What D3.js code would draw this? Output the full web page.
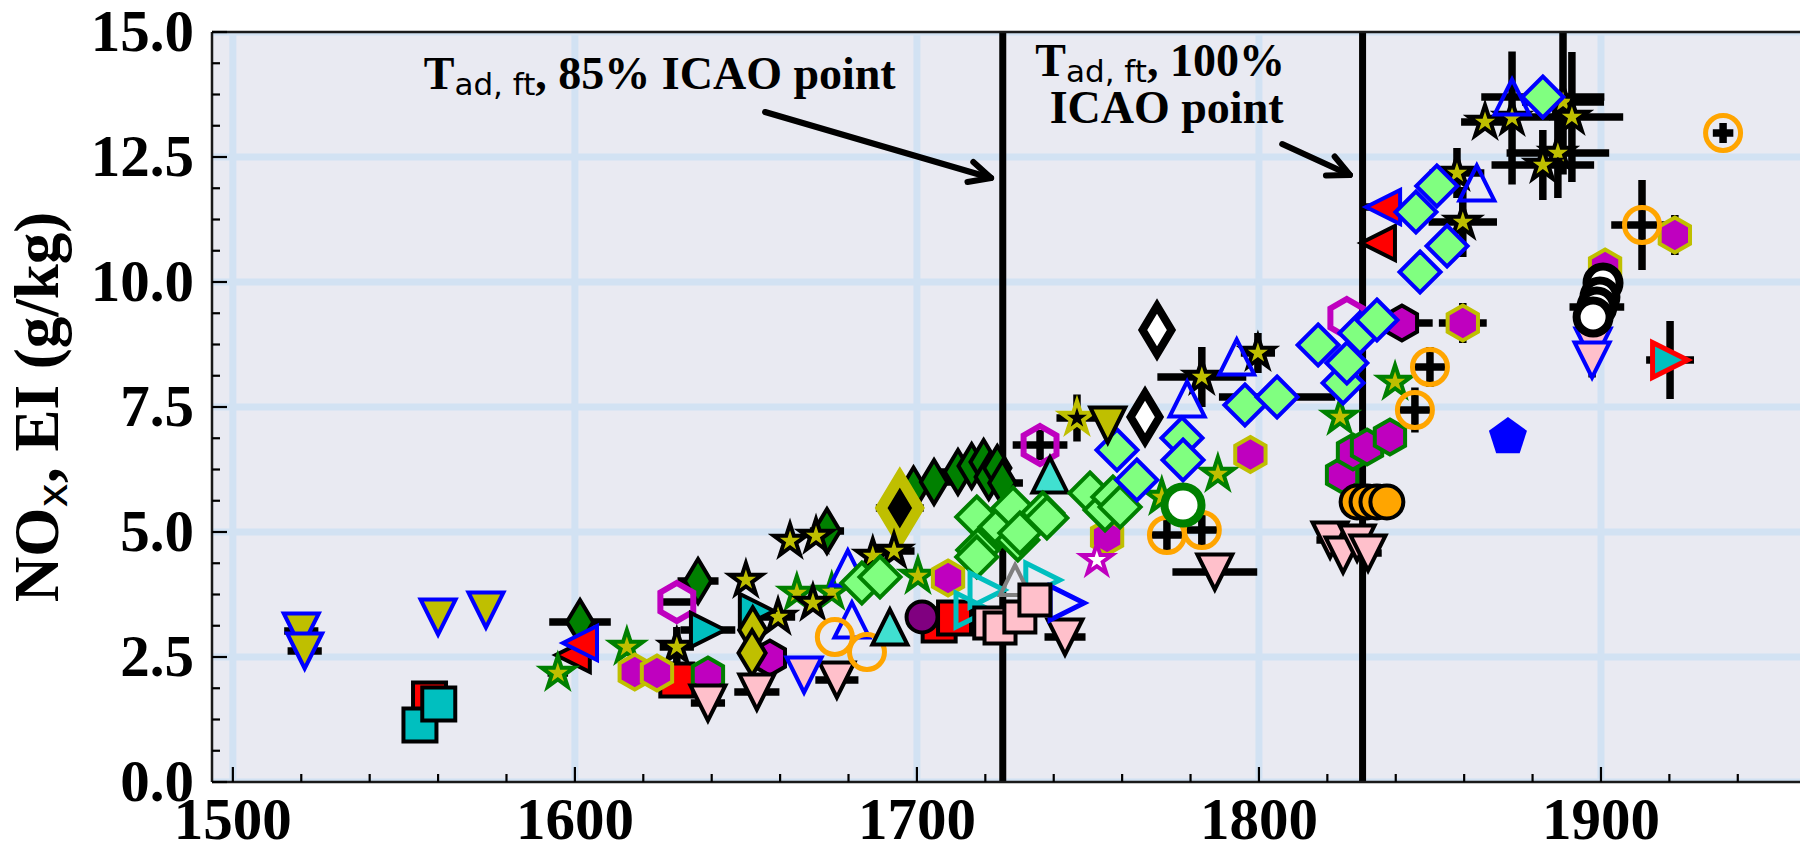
<!DOCTYPE html>
<html>
<head>
<meta charset="utf-8">
<script src="https://cdn.jsdelivr.net/npm/d3@7"></script>
<style>
  html, body { margin: 0; padding: 0; background: #ffffff; overflow: hidden; }
  svg { display: block; }
</style>
</head>
<body>
<svg id="chart" width="1800" height="843"></svg>
<script>
// ---- data: each point is [T (K), EI NOx (g/kg), xerr, yerr] ----
const triDownOliveBlue   = [[1520, 3.02, 5, 0], [1521, 2.62, 5, 0], [1560, 3.30, 0, 0], [1574, 3.44, 0, 0]];
const squareRed          = [[1557.5, 1.66, 0, 0], [1629.8, 2.04, 4, 0], [1706.5, 3.14, 0, 0], [1711, 3.28, 0, 0]];
const squareCyan         = [[1554.7, 1.14, 0, 0], [1560.2, 1.56, 0, 0]];
const thinDiamondGreen   = [[1601.5, 3.20, 9, 0], [1636, 4.02, 6, 0], [1673.7, 5.02, 5, 0], [1699, 5.85, 6, 0],
                            [1705, 6.00, 7, 0], [1712, 6.20, 6, 0], [1716, 6.32, 5, 0], [1719.5, 6.40, 5, 0],
                            [1721, 6.10, 6, 0], [1723.5, 6.28, 0, 0], [1725, 5.98, 6, 0]];
const thinDiamondDark    = [[1695, 5.48, 7, 0]];
const triLeftRedBlue     = [[1601.5, 2.78, 0, 0], [1836.3, 11.50, 5, 0]];
const triLeftRedBlack    = [[1599.4, 2.54, 0, 0], [1834.8, 10.78, 5, 0]];
const starGreenEdge      = [[1595, 2.18, 3, 0], [1615.2, 2.70, 0, 0], [1664.9, 3.78, 0, 0], [1675.1, 3.80, 0, 0],
                            [1700.3, 4.12, 0, 0], [1771.6, 5.70, 0, 0], [1788, 6.16, 0, 0], [1823.7, 7.30, 0, 0],
                            [1839.8, 8.00, 0, 0]];
const starBlackEdge      = [[1629.8, 2.70, 5, 0.4], [1650, 4.04, 0, 0], [1659.4, 3.30, 5, 0], [1662.9, 4.82, 0, 0],
                            [1670.5, 4.92, 0, 0], [1669.6, 3.58, 0, 0], [1687.1, 4.52, 0, 0], [1693.3, 4.62, 6, 0],
                            [1783.3, 8.10, 13, 0.6], [1799.7, 8.58, 5, 0.4], [1857.9, 12.18, 8, 0.5],
                            [1859.6, 11.20, 10, 0.7], [1866.1, 13.20, 7, 0], [1874, 13.28, 0, 1.33],
                            [1888.9, 13.60, 12, 1.45], [1891.5, 13.30, 15, 1.3], [1887.4, 12.58, 15, 0.9],
                            [1883, 12.34, 15, 0.7]];
const hexOliveEdge       = [[1617.5, 2.20, 0, 0], [1624, 2.18, 0, 0], [1709.1, 4.08, 0, 0], [1755.6, 4.90, 0, 0],
                            [1797.5, 6.55, 0, 0], [1859.6, 9.18, 7, 0.4], [1901.2, 10.30, 0, 0.3], [1921.6, 10.94, 4, 0.4]];
const hexGreenEdge       = [[1638.9, 2.14, 0, 0], [1824.3, 6.14, 0, 0], [1827.5, 6.60, 0, 0], [1831.6, 6.70, 0, 0],
                            [1838.3, 6.90, 0, 0]];
const hexBlackEdge       = [[1657, 2.48, 0, 0], [1841.8, 9.18, 9, 0]];
const hexOpen            = [[1629.8, 3.60, 5, 0], [1736, 6.74, 8, 0.3], [1825.7, 9.28, 0, 0]];
const triRightCyan       = [[1638.9, 3.04, 8, 0], [1653.2, 3.42, 0, 0]];
const thinDiamondOlive   = [[1652, 3.04, 0, 0], [1651.8, 2.58, 0, 0]];
const triDownPinkBlack   = [[1638.9, 1.58, 5, 0], [1653.2, 1.80, 6.6, 0], [1676.6, 2.04, 6.3, 0], [1743.3, 2.90, 6, 0],
                            [1787.1, 4.20, 12.4, 0], [1820.8, 4.84, 4, 0], [1824.6, 4.54, 0, 0], [1828.7, 4.78, 0, 0],
                            [1831.9, 4.58, 4, 0]];
const triDownPinkBlue    = [[1667, 2.14, 0, 0], [1897.7, 8.72, 0, 0], [1897.4, 8.44, 0, 0.35]];
const triUpOpenBlue      = [[1679.8, 4.28, 0, 0], [1681, 3.24, 0, 0], [1779, 7.66, 0, 0], [1793.5, 8.50, 0, 0],
                            [1863.7, 11.98, 0, 0], [1874, 13.70, 0, 0]];
const circleOpenOrange   = [[1676, 2.90, 0, 0], [1685.4, 2.60, 0, 0], [1773.1, 4.94, 5, 0.3], [1783.3, 5.04, 5, 0.3],
                            [1845.6, 7.44, 5, 0.45], [1850, 8.30, 5, 0.4], [1912, 11.14, 9, 0.9], [1935.7, 12.98, 3, 0.2]];
const triUpTurquoise     = [[1692.1, 3.10, 0, 0], [1738.9, 6.14, 0, 0]];
const circlePurple       = [[1701.5, 3.30, 0, 0]];
const diamondGreenEdge   = [[1683.9, 3.98, 0, 0], [1689.2, 4.10, 0, 0], [1717.5, 5.30, 0, 0], [1717.8, 4.64, 0, 0],
                            [1717.5, 4.50, 0, 0], [1724.3, 5.10, 0, 0], [1728.1, 5.48, 0, 0], [1729.5, 4.84, 0, 0],
                            [1730.1, 4.98, 0, 0], [1736.8, 5.38, 0, 0], [1738, 5.28, 0, 0], [1750.6, 5.78, 0, 0],
                            [1755, 5.44, 0, 0], [1757.3, 5.70, 0, 0], [1759.4, 5.50, 0, 0]];
const diamondBlueEdge    = [[1758.5, 6.64, 0, 0], [1764.3, 6.04, 0, 0], [1777.5, 6.88, 0, 0], [1777.8, 6.44, 0, 0],
                            [1795.9, 7.54, 0, 0], [1805.3, 7.70, 17, 0], [1817.3, 8.74, 0, 0], [1824.6, 7.98, 0, 0],
                            [1825.7, 8.38, 0, 0], [1829.5, 8.98, 0, 0], [1834.5, 9.24, 0, 0], [1845.9, 11.40, 0, 0],
                            [1852, 11.92, 0, 0], [1847.1, 10.20, 0, 0], [1855, 10.72, 0, 0], [1883, 13.70, 18, 0]];
const triRightOpenCyan   = [[1716.4, 3.44, 0, 0], [1720.5, 3.84, 0, 0], [1736.8, 4.04, 0, 0]];
const triRightOpenBlue   = [[1743.9, 3.58, 0, 0]];
const triUpOpenGray      = [[1728.7, 4.04, 0, 0]];
const squarePink         = [[1721.3, 3.18, 0, 0], [1724.3, 3.08, 0, 0], [1730.1, 3.30, 0, 0], [1734.5, 3.64, 0, 0]];
const pentagonBlue       = [[1872.8, 6.90, 0, 0]];
const circleWhite        = [[1900.6, 9.98, 0, 0], [1899.7, 9.70, 0, 0], [1898.8, 9.50, 8, 0], [1897.7, 9.30, 0, 0]];
const circleWhiteGreen   = [[1777.8, 5.54, 0, 0]];
const circleOrange       = [[1828.7, 5.60, 0, 0], [1831.6, 5.60, 0, 0], [1834.5, 5.60, 0, 0], [1837.4, 5.60, 0, 0]];
const thinDiamondWhite   = [[1770.2, 9.04, 0, 0], [1766.7, 7.30, 0, 0]];
const starWhite          = [[1752.6, 4.44, 0, 0]];
const starDark           = [[1746.8, 7.28, 6, 0.47]];
const triDownOliveBlack  = [[1755.8, 7.14, 0, 0]];
const triRightCyanRed    = [[1920.2, 8.44, 7, 0.78]];

// reference temperatures (vertical lines)
const refLines = [1725.1, 1830.3];

// axis ticks
const xMajor = [1500, 1600, 1700, 1800, 1900];
const yMajor = [0, 2.5, 5, 7.5, 10, 12.5, 15];
const yTickLabels = ["0.0", "2.5", "5.0", "7.5", "10.0", "12.5", "15.0"];

// ---- series styling ----
const C = {
  olive: "#bfbf00", cyan: "#00bfbf", mag: "#bf00bf", green: "#008000", red: "#ff0000",
  blue: "#0000ff", pink: "#ffc0cb", lgreen: "#80ff80", turq: "#40e0d0", purple: "#800080",
  orange: "#ffa500", gray: "#808080", black: "#000000", white: "#ffffff"
};
const series = [
  { data: triDownOliveBlue,  sym: "v", ms: 35, fill: C.olive,  stroke: C.blue,   sw: 4 },
  { data: squareRed,         sym: "s", ms: 33, fill: C.red,    stroke: C.black,  sw: 4 },
  { data: squareCyan,        sym: "s", ms: 33, fill: C.cyan,   stroke: C.black,  sw: 4 },
  { data: thinDiamondGreen,  sym: "d", ms: 31, fill: C.green,  stroke: C.black,  sw: 4 },
  { data: thinDiamondDark,   sym: "d", ms: 44, fill: C.black,  stroke: C.olive,  sw: 11 },
  { data: triLeftRedBlack,   sym: "<", ms: 34, fill: C.red,    stroke: C.black,  sw: 4 },
  { data: triLeftRedBlue,    sym: "<", ms: 34, fill: C.red,    stroke: C.blue,   sw: 4 },
  { data: starGreenEdge,     sym: "*", ms: 34, fill: C.olive,  stroke: C.green,  sw: 4 },
  { data: starBlackEdge,     sym: "*", ms: 34, fill: C.olive,  stroke: C.black,  sw: 4 },
  { data: hexOliveEdge,      sym: "h", ms: 35, fill: C.mag,    stroke: C.olive,  sw: 4 },
  { data: hexGreenEdge,      sym: "h", ms: 35, fill: C.mag,    stroke: C.green,  sw: 4 },
  { data: hexBlackEdge,      sym: "h", ms: 35, fill: C.mag,    stroke: C.black,  sw: 4 },
  { data: hexOpen,           sym: "h", ms: 38, fill: "none",   stroke: C.mag,    sw: 6 },
  { data: triRightCyan,      sym: ">", ms: 34, fill: C.cyan,   stroke: C.black,  sw: 4 },
  { data: thinDiamondOlive,  sym: "d", ms: 32, fill: C.olive,  stroke: C.black,  sw: 4 },
  { data: triDownPinkBlack,  sym: "v", ms: 35, fill: C.pink,   stroke: C.black,  sw: 4 },
  { data: triDownPinkBlue,   sym: "v", ms: 35, fill: C.pink,   stroke: C.blue,   sw: 4 },
  { data: triUpOpenBlue,     sym: "^", ms: 35, fill: "none",   stroke: C.blue,   sw: 4 },
  { data: circleOpenOrange,  sym: "o", ms: 35, fill: "none",   stroke: C.orange, sw: 5 },
  { data: triUpTurquoise,    sym: "^", ms: 35, fill: C.turq,   stroke: C.black,  sw: 4 },
  { data: circlePurple,      sym: "o", ms: 31, fill: C.purple, stroke: C.black,  sw: 4 },
  { data: diamondGreenEdge,  sym: "D", ms: 29, fill: C.lgreen, stroke: C.green,  sw: 4 },
  { data: diamondBlueEdge,   sym: "D", ms: 29, fill: C.lgreen, stroke: C.blue,   sw: 4 },
  { data: triRightOpenCyan,  sym: ">", ms: 34, fill: "none",   stroke: C.cyan,   sw: 5 },
  { data: triRightOpenBlue,  sym: ">", ms: 34, fill: "none",   stroke: C.blue,   sw: 5 },
  { data: triUpOpenGray,     sym: "^", ms: 30, fill: "none",   stroke: C.gray,   sw: 4 },
  { data: squarePink,        sym: "s", ms: 31, fill: C.pink,   stroke: C.black,  sw: 4 },
  { data: pentagonBlue,      sym: "p", ms: 40, fill: C.blue,   stroke: "none",   sw: 0 },
  { data: circleWhite,       sym: "o", ms: 33, fill: C.white,  stroke: C.black,  sw: 8 },
  { data: circleWhiteGreen,  sym: "o", ms: 37, fill: C.white,  stroke: C.green,  sw: 8 },
  { data: circleOrange,      sym: "o", ms: 33, fill: C.orange, stroke: C.black,  sw: 4 },
  { data: thinDiamondWhite,  sym: "d", ms: 34, fill: C.white,  stroke: C.black,  sw: 8 },
  { data: starWhite,         sym: "*", ms: 32, fill: C.white,  stroke: C.mag,    sw: 4 },
  { data: starDark,          sym: "*", ms: 34, fill: C.black,  stroke: C.olive,  sw: 4 },
  { data: triDownOliveBlack, sym: "v", ms: 35, fill: C.olive,  stroke: C.black,  sw: 4 },
  { data: triRightCyanRed,   sym: ">", ms: 35, fill: C.cyan,   stroke: C.red,    sw: 5 }
];

// ---- layout ----
const W = 1800, H = 843;
const plot = { left: 212, top: 32, right: 1812, bottom: 782 };
const x = d3.scaleLinear().domain([1493.9, 1961.7]).range([plot.left, plot.right]);
const y = d3.scaleLinear().domain([0, 15]).range([plot.bottom, plot.top]);

const svg = d3.select("#chart");
svg.append("rect").attr("width", W).attr("height", H).attr("fill", "#ffffff");

svg.append("defs").append("clipPath").attr("id", "plotClip")
  .append("rect").attr("x", plot.left).attr("y", plot.top)
  .attr("width", W - plot.left).attr("height", plot.bottom - plot.top);

// background
svg.append("rect").attr("x", plot.left).attr("y", plot.top)
  .attr("width", plot.right - plot.left).attr("height", plot.bottom - plot.top)
  .attr("fill", "#e9eaf2");

const inner = svg.append("g").attr("clip-path", "url(#plotClip)");

// grid
const gridColor = "#d2e2f3";
inner.append("g").selectAll("line").data(xMajor).join("line")
  .attr("x1", d => x(d)).attr("x2", d => x(d))
  .attr("y1", plot.top).attr("y2", plot.bottom)
  .attr("stroke", gridColor).attr("stroke-width", 7);
inner.append("g").selectAll("line").data(yMajor).join("line")
  .attr("x1", plot.left).attr("x2", plot.right)
  .attr("y1", d => y(d)).attr("y2", d => y(d))
  .attr("stroke", gridColor).attr("stroke-width", 7);

// reference temperature lines
inner.append("g").selectAll("line").data(refLines).join("line")
  .attr("x1", d => x(d)).attr("x2", d => x(d))
  .attr("y1", plot.top).attr("y2", plot.bottom)
  .attr("stroke", "#000").attr("stroke-width", 7);

// error bars
const errG = inner.append("g").attr("stroke", "#000").attr("stroke-width", 7.5).attr("stroke-linecap", "butt");
series.forEach(s => {
  s.data.forEach(p => {
    const [px, py, ex, ey] = p;
    if (ex > 0) errG.append("line").attr("x1", x(px - ex)).attr("x2", x(px + ex)).attr("y1", y(py)).attr("y2", y(py));
    if (ey > 0) errG.append("line").attr("x1", x(px)).attr("x2", x(px)).attr("y1", y(py - ey)).attr("y2", y(py + ey));
  });
});

// marker shapes, centred at the origin
function poly(pts) { return "M" + pts.map(p => p[0].toFixed(2) + "," + p[1].toFixed(2)).join("L") + "Z"; }
function markerPath(sym, ms) {
  const r = ms / 2;
  const d = r * Math.SQRT2;
  switch (sym) {
    case "o": return `M${r},0A${r},${r} 0 1,1 ${-r},0A${r},${r} 0 1,1 ${r},0Z`;
    case "s": return poly([[-r, -r], [r, -r], [r, r], [-r, r]]);
    case "D": return poly([[0, -d], [d, 0], [0, d], [-d, 0]]);
    case "d": return poly([[0, -d], [0.6 * d, 0], [0, d], [-0.6 * d, 0]]);
    case "v": return poly([[0, r], [-r, -r], [r, -r]]);
    case "^": return poly([[0, -r], [-r, r], [r, r]]);
    case "<": return poly([[-r, 0], [r, -r], [r, r]]);
    case ">": return poly([[r, 0], [-r, -r], [-r, r]]);
    case "h": return poly(d3.range(6).map(k => { const a = -Math.PI / 2 + k * Math.PI / 3; return [r * Math.cos(a), r * Math.sin(a)]; }));
    case "p": return poly(d3.range(5).map(k => { const a = -Math.PI / 2 + k * 2 * Math.PI / 5; return [r * Math.cos(a), r * Math.sin(a)]; }));
    case "*": return poly(d3.range(10).map(k => { const a = -Math.PI / 2 + k * Math.PI / 5; const rr = k % 2 ? r * 0.381966 : r; return [rr * Math.cos(a), rr * Math.sin(a)]; }));
  }
}

// markers
series.forEach(s => {
  const path = markerPath(s.sym, s.ms);
  inner.append("g").selectAll("path").data(s.data).join("path")
    .attr("d", path)
    .attr("transform", p => `translate(${x(p[0])},${y(p[1])})`)
    .attr("fill", s.fill)
    .attr("stroke", s.stroke)
    .attr("stroke-width", s.sw)
    .attr("stroke-linejoin", "miter")
    .attr("stroke-miterlimit", 10);
});

// spines
const spine = svg.append("g").attr("stroke", "#1a1a1a").attr("stroke-width", 2.5).attr("fill", "none");
spine.append("line").attr("x1", plot.left).attr("x2", W).attr("y1", plot.top).attr("y2", plot.top);
spine.append("line").attr("x1", plot.left).attr("x2", plot.left).attr("y1", plot.top).attr("y2", plot.bottom);
spine.append("line").attr("x1", plot.left).attr("x2", W).attr("y1", plot.bottom).attr("y2", plot.bottom);

// ticks (pointing inward)
const xMinor = d3.range(1500, 1961, 20).filter(v => !xMajor.includes(v));
const yMinor = d3.range(0, 15.01, 0.625).filter(v => Math.abs(v / 2.5 - Math.round(v / 2.5)) > 1e-6);
const tickG = svg.append("g").attr("stroke", "#000").attr("stroke-width", 2.2);
tickG.selectAll(".xM").data(xMajor).join("line").attr("class", "xM")
  .attr("x1", d => x(d)).attr("x2", d => x(d)).attr("y1", plot.bottom).attr("y2", plot.bottom - 15);
tickG.selectAll(".xm").data(xMinor).join("line").attr("class", "xm")
  .attr("x1", d => x(d)).attr("x2", d => x(d)).attr("y1", plot.bottom).attr("y2", plot.bottom - 8);
tickG.selectAll(".yM").data(yMajor).join("line").attr("class", "yM")
  .attr("x1", plot.left).attr("x2", plot.left + 15).attr("y1", d => y(d)).attr("y2", d => y(d));
tickG.selectAll(".ym").data(yMinor).join("line").attr("class", "ym")
  .attr("x1", plot.left).attr("x2", plot.left + 8).attr("y1", d => y(d)).attr("y2", d => y(d));

// tick labels
const serif = "'Liberation Serif', 'Times New Roman', serif";
const sans = "'DejaVu Sans', sans-serif";
svg.append("g").selectAll("text").data(xMajor).join("text")
  .attr("x", d => x(d)).attr("y", 839)
  .attr("text-anchor", "middle")
  .attr("font-family", serif).attr("font-weight", "bold").attr("font-size", 59)
  .text(d => d);
svg.append("g").selectAll("text").data(yMajor).join("text")
  .attr("x", 194).attr("y", d => y(d) + 19)
  .attr("text-anchor", "end")
  .attr("font-family", serif).attr("font-weight", "bold").attr("font-size", 59)
  .text((d, i) => yTickLabels[i]);

// y-axis title
const yt = svg.append("text")
  .attr("transform", `translate(58,${(plot.top + plot.bottom) / 2}) rotate(-90)`)
  .attr("text-anchor", "middle")
  .attr("font-family", serif).attr("font-weight", "bold").attr("font-size", 63);
yt.append("tspan").text("NO");
yt.append("tspan").attr("font-family", sans).attr("font-weight", "normal").attr("font-size", 42).attr("dy", 9).text("x");
yt.append("tspan").attr("dy", -9).text(", EI (g/kg)");

// annotations
function tadLabel(g, xPos, yPos, anchor, rest) {
  const t = g.append("text").attr("x", xPos).attr("y", yPos).attr("text-anchor", anchor)
    .attr("font-family", serif).attr("font-weight", "bold").attr("font-size", 46).attr("fill", "#000");
  t.append("tspan").text("T");
  t.append("tspan").attr("font-family", sans).attr("font-weight", "normal").attr("font-size", 31).attr("dy", 6).text("ad, ft");
  t.append("tspan").attr("dy", -6).text(rest);
  return t;
}
function arrow(g, x0, y0, x1, y1) {
  const ang = Math.atan2(y1 - y0, x1 - x0), L = 24, spread = 0.45;
  g.append("line").attr("x1", x0).attr("y1", y0).attr("x2", x1).attr("y2", y1)
    .attr("stroke", "#000").attr("stroke-width", 6).attr("stroke-linecap", "round");
  const p1 = [x1 - L * Math.cos(ang - spread), y1 - L * Math.sin(ang - spread)];
  const p2 = [x1 - L * Math.cos(ang + spread), y1 - L * Math.sin(ang + spread)];
  g.append("path").attr("d", `M${p1[0]},${p1[1]}L${x1},${y1}L${p2[0]},${p2[1]}`)
    .attr("fill", "none").attr("stroke", "#000").attr("stroke-width", 6)
    .attr("stroke-linecap", "round").attr("stroke-linejoin", "round");
}
const ann = svg.append("g");
tadLabel(ann, x(1555.8), y(13.86), "start", ", 85% ICAO point");
arrow(ann, x(1655.6), y(13.4), x(1721.7), y(12.08));
tadLabel(ann, x(1771.1), y(14.12), "middle", ", 100%");
ann.append("text").attr("x", x(1773)).attr("y", y(13.18)).attr("text-anchor", "middle")
  .attr("font-family", serif).attr("font-weight", "bold").attr("font-size", 46).text("ICAO point");
arrow(ann, x(1806.8), y(12.76), x(1826.6), y(12.14));
</script>
</body>
</html>
